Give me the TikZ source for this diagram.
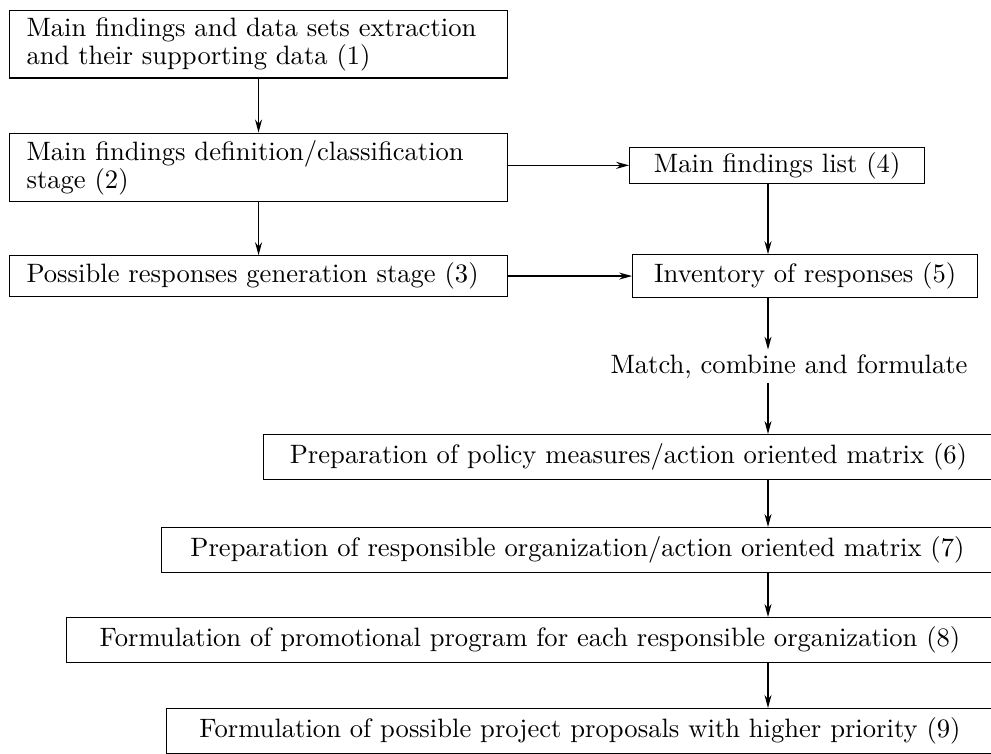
\documentclass[tikz,border=0pt]{standalone}
\usepackage{fontspec}
\setmainfont{lmroman10-regular.otf}
\usetikzlibrary{positioning,arrows.meta}

\tikzset{
  box/.style={draw, line width=1.1pt, inner ysep=8pt},
  leftbox/.style={box, text width=464pt, inner xsep=17pt, inner ysep=7pt, align=left},
  stagebox/.style={box, inner ysep=9pt, anchor=north east},
}

\begin{document}
\begin{tikzpicture}[x=1pt, y=-1pt, >={Stealth[length=13pt,width=7pt]}, line width=1.3pt,
  every node/.style={font=\fontsize{26.6pt}{28pt}\selectfont}]

\useasboundingbox (0,0) rectangle (991,753);
\clip (0,0) rectangle (991,753);

% nodes (left column, then the list boxes to the right)
\node[leftbox, anchor=north west] (b1) at (9,10) {Main findings and data sets extraction\\and their supporting data (1)};
\node[leftbox, below=54pt of b1.south west, anchor=north west] (b2) {Main findings definition/classification\\stage (2)};
\node[leftbox, below=53pt of b2.south west, anchor=north west] (b3) {Possible responses generation stage (3)};
\node[box, inner ysep=5pt, minimum width=295pt, right=121pt of b2, yshift=2pt] (b4) {Main findings list (4)};
\node[box, minimum width=345pt, right=124pt of b3] (b5) {Inventory of responses (5)};

% the chain down the right side
\coordinate (spine) at (768,0);
\node[anchor=base, inner ysep=4pt] (match) at (789,373) {Match, combine and formulate};
\node[stagebox, minimum width=730pt] (b6) at (994,434) {Preparation of policy measures/action oriented matrix (6)};
\node[stagebox, minimum width=832pt] (b7) at (994,527) {Preparation of responsible organization/action oriented matrix (7)};
\node[stagebox, minimum width=927pt] (b8) at (994,617) {Formulation of promotional program for each responsible organization (8)};
\node[stagebox, minimum width=827pt] (b9) at (994,708) {Formulation of possible project proposals with higher priority (9)};

% edges
\draw[->] (b1) -- (b2);
\draw[->] (b2) -- (b3);
\draw[->] (b2.east |- b4) -- (b4);
\draw[->] (b3) -- (b5);
\draw[->] (b4.south -| spine) -- (b5.north -| spine);
\draw[->] (b5.south -| spine) -- (match.north -| spine);
\draw[->] (match.south -| spine) -- (b6.north -| spine);
\draw[->] (b6.south -| spine) -- (b7.north -| spine);
\draw[->] (b7.south -| spine) -- (b8.north -| spine);
\draw[->] (b8.south -| spine) -- (b9.north -| spine);

\end{tikzpicture}
\end{document}
